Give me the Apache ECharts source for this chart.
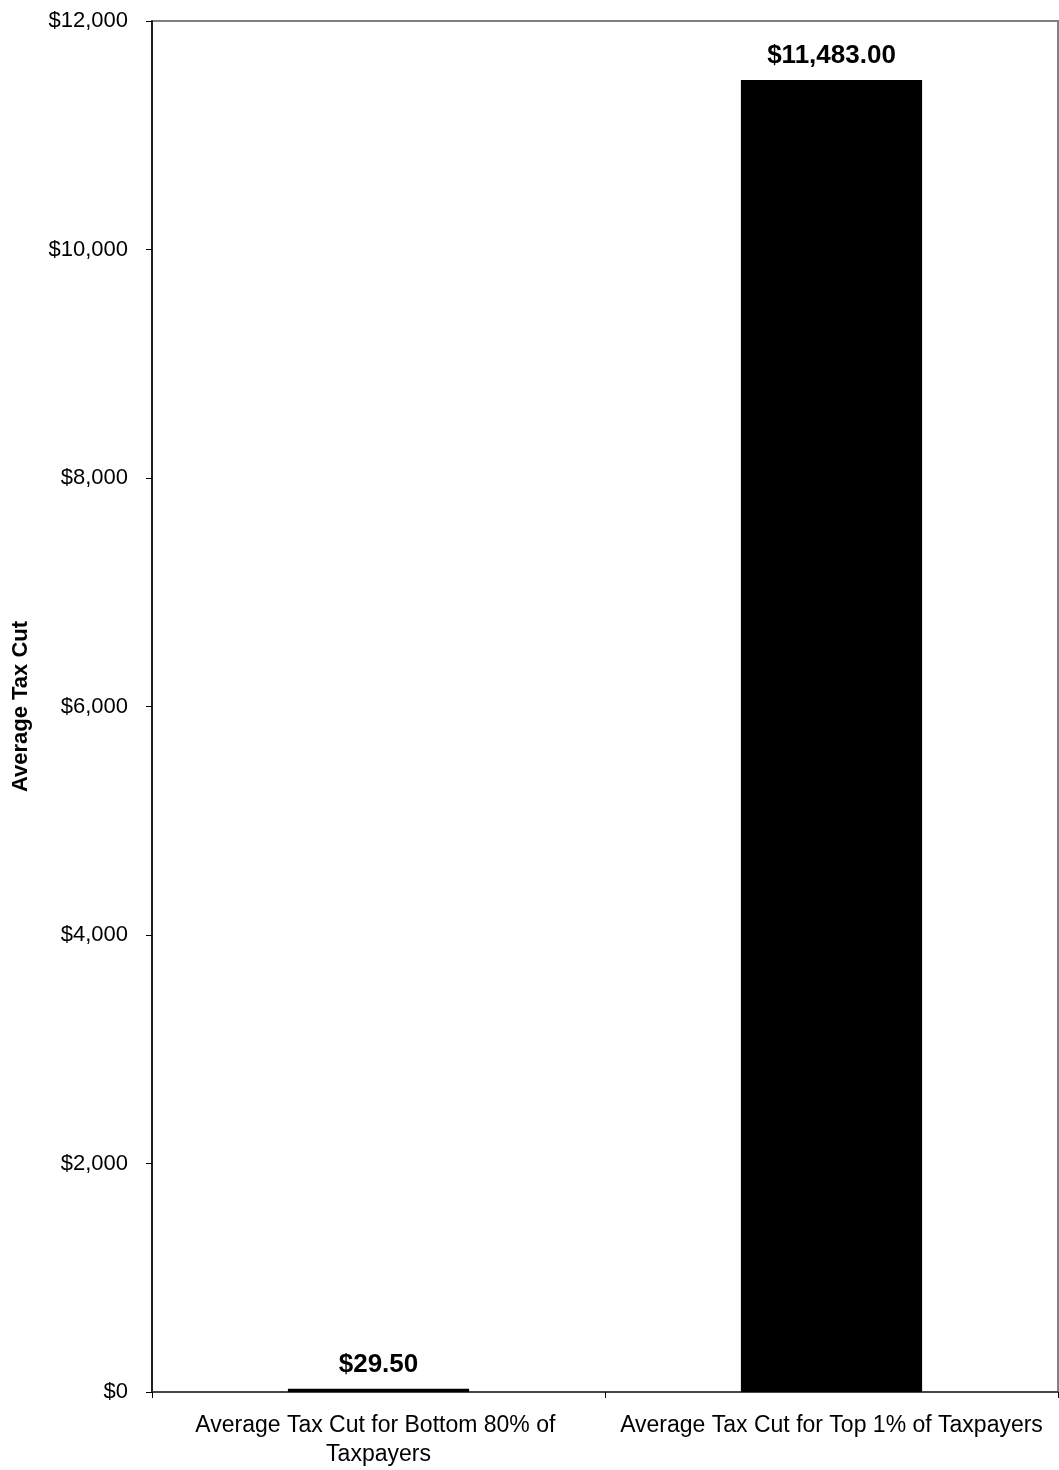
<!DOCTYPE html>
<html>
<head>
<meta charset="utf-8">
<script src="https://cdn.jsdelivr.net/npm/echarts@6/dist/echarts.min.js"></script>
<style>html,body{margin:0;padding:0;background:#fff}#c{width:1059px;height:1470px}</style>
</head>
<body>
<div id="c"></div>
<script>
const categories = ["Average Tax Cut for Bottom 80% of Taxpayers", "Average Tax Cut for Top 1% of Taxpayers"];
const values = [29.5, 11483.0];
const yTicks = [0, 2000, 4000, 6000, 8000, 10000, 12000];

const chart = echarts.init(document.getElementById('c'));
const fmtMoney = v => '$' + v.toLocaleString('en-US');
chart.setOption({
  animation: false,
  textStyle: { fontFamily: 'Liberation Sans, Arial, sans-serif' },
  grid: { left: 152, top: 21, right: 1, bottom: 78, show: true, borderColor: '#808080', borderWidth: 2, backgroundColor: '#fff' },
  xAxis: {
    type: 'category',
    data: categories,
    axisLine: { lineStyle: { color: '#333', width: 1.5 } },
    axisTick: { show: true, alignWithLabel: false, length: 6, lineStyle: { color: '#000' } },
    axisLabel: { interval: 0, color: '#000', fontSize: 23, margin: 19, width: 440, overflow: 'break', lineHeight: 29 }
  },
  yAxis: {
    type: 'value',
    min: yTicks[0], max: yTicks[yTicks.length - 1], interval: yTicks[1] - yTicks[0],
    name: 'Average Tax Cut',
    nameLocation: 'middle',
    nameGap: 120,
    nameTextStyle: { fontSize: 22, fontWeight: 'bold', color: '#000' },
    axisLine: { show: true, lineStyle: { color: '#000', width: 1.5 } },
    axisTick: { show: true, length: 6, lineStyle: { color: '#000' } },
    axisLabel: { color: '#000', fontSize: 22, margin: 24, formatter: v => fmtMoney(v) },
    splitLine: { show: false }
  },
  series: [{
    type: 'bar',
    data: values,
    barWidth: '40%',
    itemStyle: { color: '#000', borderColor: '#000', borderWidth: 2 },
    label: {
      show: true, position: 'top', distance: 11,
      fontSize: 26, fontWeight: 'bold', color: '#000',
      formatter: p => '$' + p.value.toLocaleString('en-US', { minimumFractionDigits: 2, maximumFractionDigits: 2 })
    }
  }]
});
</script>
</body>
</html>
